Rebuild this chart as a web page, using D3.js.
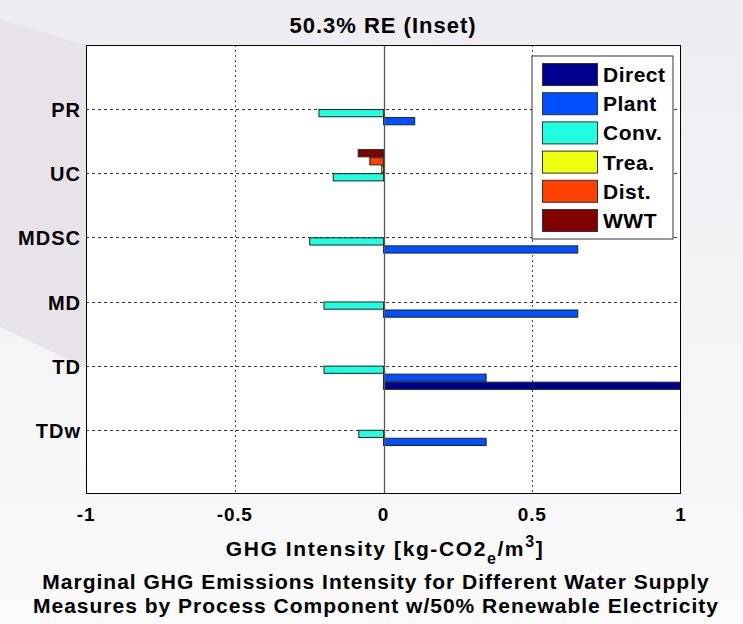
<!DOCTYPE html>
<html>
<head>
<meta charset="utf-8">
<script src="https://cdn.jsdelivr.net/npm/d3@7"></script>
<style>
  body { margin: 0; background: #f3f1f5; }
  text { font-family: Arial, "Liberation Sans", sans-serif; font-weight: bold; fill: #000; }
</style>
</head>
<body>
<div id="chart"></div>
<script>
// measures, top to bottom
const categories = ["PR", "UC", "MDSC", "MD", "TD", "TDw"];
// GHG intensity per component [kg-CO2e/m3]
const direct = [0, 0, 0, 0, 1.05, 0];
const plant  = [0.105, 0, 0.653, 0.653, 0.345, 0.345];
const conv   = [-0.217, -0.169, -0.248, -0.2, -0.2, -0.083];
const trea   = [0, -0.006, 0, 0, 0, 0];
const dist   = [0, -0.046, 0, 0, 0, 0];
const wwt    = [0, -0.085, 0, 0, 0, 0];
const seriesNames = ["Direct", "Plant", "Conv.", "Trea.", "Dist.", "WWT"];
const xTicks = [-1, -0.5, 0, 0.5, 1];

const colors = ["#00008f", "#0050ff", "#20ffdf", "#efff10", "#ff4000", "#800000"];
const seriesVals = [direct, plant, conv, trea, dist, wwt];

const W = 743, H = 624;
let margin = {top: 45, right: 62, bottom: 130, left: 86};
let pw = W - margin.left - margin.right;
let ph = H - margin.top - margin.bottom;

let svg = d3.select("#chart").append("svg")
    .attr("width", W)
    .attr("height", H);

// slide-like background
let defs = svg.append("defs");
let grad = defs.append("linearGradient").attr("id", "bg").attr("x1", 0).attr("y1", 0).attr("x2", 0).attr("y2", 1);
grad.append("stop").attr("offset", "0%").attr("stop-color", "#eeecf1");
grad.append("stop").attr("offset", "100%").attr("stop-color", "#fafafb");
svg.append("rect").attr("width", W).attr("height", H).attr("fill", "url(#bg)");
svg.append("path")
    .attr("d", "M0,19 L300,110 L300,470 L0,327 Z")
    .attr("fill", "#e8e2e9");
defs.append("clipPath").attr("id", "clip")
    .append("rect").attr("x", margin.left).attr("y", margin.top).attr("width", pw).attr("height", ph);

let x = d3.scaleLinear().domain([-1, 1]).range([margin.left, margin.left + pw]);
let y = d3.scaleLinear().domain([0, categories.length + 1]).range([margin.top, margin.top + ph]);
let unit = y(1) - y(0);
let slot = 0.125;

svg.append("rect")
    .attr("x", margin.left).attr("y", margin.top)
    .attr("width", pw).attr("height", ph)
    .attr("fill", "#fff");

// grid
svg.append("g").selectAll("line")
    .data(categories).enter().append("line")
    .attr("x1", margin.left).attr("x2", margin.left + pw)
    .attr("y1", (d, i) => Math.round(y(i + 1)) + 0.5)
    .attr("y2", (d, i) => Math.round(y(i + 1)) + 0.5)
    .attr("stroke", "#333").attr("stroke-dasharray", "3,3");
svg.append("g").selectAll("line")
    .data([-0.5, 0.5]).enter().append("line")
    .attr("x1", d => Math.round(x(d)) + 0.5).attr("x2", d => Math.round(x(d)) + 0.5)
    .attr("y1", margin.top).attr("y2", margin.top + ph)
    .attr("stroke", "#444").attr("stroke-dasharray", "2,3");

// bars
let barG = svg.append("g").attr("clip-path", "url(#clip)");
seriesVals.forEach((vals, s) => {
    let off = (2.5 - s) * slot;
    barG.selectAll(null)
        .data(vals.map((v, i) => ({v: v, i: i})).filter(d => d.v !== 0))
        .enter().append("rect")
        .attr("x", d => x(Math.min(0, d.v)))
        .attr("width", d => Math.abs(x(d.v) - x(0)))
        .attr("y", d => y(d.i + 1 + off) - slot * unit * 0.45)
        .attr("height", slot * unit * 0.9)
        .attr("fill", colors[s])
        .attr("stroke", "#222")
        .attr("stroke-width", 1);
});

// baseline at zero
svg.append("line")
    .attr("x1", Math.round(x(0)) + 0.5).attr("x2", Math.round(x(0)) + 0.5)
    .attr("y1", margin.top).attr("y2", margin.top + ph)
    .attr("stroke", "#555").attr("stroke-width", 1.3);

// axes box
svg.append("rect")
    .attr("x", margin.left + 0.5).attr("y", margin.top + 0.5)
    .attr("width", pw - 1).attr("height", ph - 1)
    .attr("fill", "none").attr("stroke", "#000");

// tick labels
svg.append("g").selectAll("text")
    .data(xTicks).enter().append("text")
    .attr("x", d => x(d))
    .attr("y", margin.top + ph + 27)
    .attr("text-anchor", "middle")
    .style("font-size", "19px")
    .style("letter-spacing", "0.8px")
    .text(d => d);
svg.append("g").selectAll("text")
    .data(categories).enter().append("text")
    .attr("x", margin.left - 5)
    .attr("y", (d, i) => y(i + 1) + 8)
    .attr("text-anchor", "end")
    .style("font-size", "20px")
    .style("letter-spacing", "1px")
    .text(d => d);

// legend
let lg = svg.append("g").attr("transform", "translate(532,56)");
lg.append("rect").attr("width", 141).attr("height", 183)
    .attr("fill", "#fff").attr("stroke", "#333");
let row = lg.selectAll("g").data(seriesNames).enter().append("g")
    .attr("transform", (d, i) => "translate(0," + (18 + i * 29.2) + ")");
row.append("rect").attr("x", 10.5).attr("y", -10.5).attr("width", 55).attr("height", 22)
    .attr("fill", (d, i) => colors[i]).attr("stroke", "#333");
row.append("text").attr("x", 71).attr("y", 8)
    .style("font-size", "21px")
    .style("letter-spacing", "0.5px")
    .text(d => d);

// titles
svg.append("text").attr("x", 383).attr("y", 33)
    .attr("text-anchor", "middle").style("font-size", "22px")
    .style("letter-spacing", "1px")
    .text("50.3% RE (Inset)");

let xl = svg.append("text").attr("x", 385).attr("y", 556)
    .attr("text-anchor", "middle").style("font-size", "21px")
    .style("letter-spacing", "1.6px");
xl.append("tspan").text("GHG Intensity [kg-CO2");
xl.append("tspan").attr("dy", 8).style("font-size", "16px").text("e");
xl.append("tspan").attr("dy", -8).text("/m");
xl.append("tspan").attr("dy", -9).style("font-size", "16px").text("3");
xl.append("tspan").attr("dy", 9).text("]");

svg.append("g").selectAll("text")
    .data(["Marginal GHG Emissions Intensity for Different Water Supply",
           "Measures by Process Component w/50% Renewable Electricity"])
    .enter().append("text")
    .attr("x", 376)
    .attr("y", (d, i) => 589 + i * 24)
    .attr("text-anchor", "middle")
    .style("font-size", "21px")
    .style("letter-spacing", "1px")
    .text(d => d);
</script>
</body>
</html>
